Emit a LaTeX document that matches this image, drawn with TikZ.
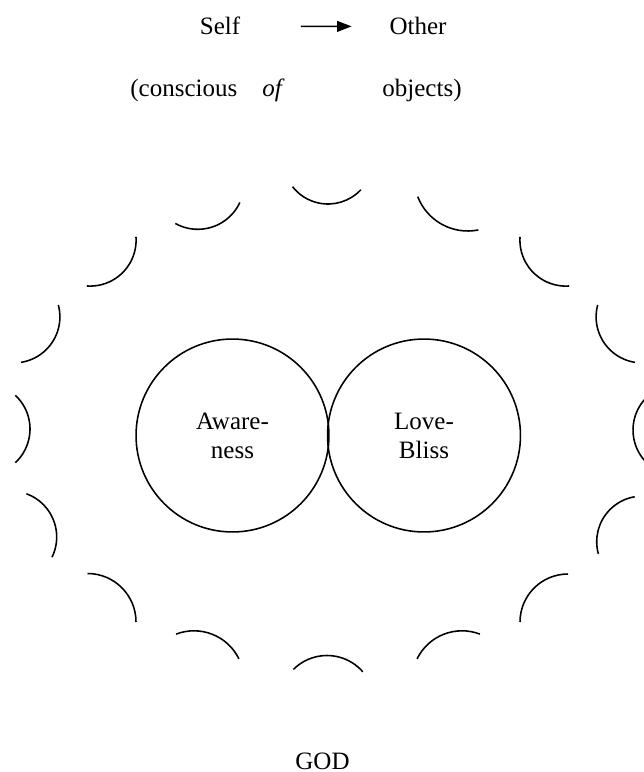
\documentclass[tikz,border=0pt]{standalone}
\usepackage{fontspec}
\setmainfont{Liberation Serif}
\usetikzlibrary{arrows.meta}

\begin{document}
\begin{tikzpicture}[x=0.48pt,y=-0.48pt,>={Triangle[length=7pt,width=5.2pt]},
  every node/.style={font=\fontsize{12}{13.9}\selectfont,align=center},
  wordtxt/.style={anchor=base,inner sep=0pt},
  ring/.style={draw,circle,line width=0.75pt,minimum size=92.6pt,inner sep=0pt},
  scallop/.style={line width=0.75pt}]
\useasboundingbox (0,0) rectangle (644,772);
\clip (0,0) rectangle (644,772);
\node[wordtxt] (self) at (220,35) {Self};
\node[wordtxt] (other) at (418,35) {Other};
\node[wordtxt,anchor=base west] (conscious) at (130,97) {(conscious};
\node[wordtxt,anchor=base west] (of) at (262,97) {\itshape of};
\node[wordtxt,anchor=base west] (objects) at (382,97) {objects)};
\draw[->,line width=0.75pt,shorten <=29pt,shorten >=18pt] (self) -- (other);
\node[ring] (aware) at (232.5,435.5) {Aware-\\ness};
\node[ring] (love) at (424,435.5) {Love-\\Bliss};
\node[wordtxt] (god) at (322.5,769) {GOD};
% scalloped ring round the two circles: centre x/centre y/radius/from/to
\foreach \cx/\cy/\r/\a/\b in {
  328/159/45/43/142, 197.8/182.9/46.4/25/119, 467.8/177.3/53.7/78.7/158.8,
  90.1/240.1/46/-4/94, 565.9/240.1/46/86/184,
  13.9/316.9/46/-15/81, 642.1/316.9/46/99/195,
  -16/429/46/-47/47, 679/430/46/133/227,
  10.7/537/46/-70/26, 642.3/541.7/45.6/164.6/260.4,
  87.5/622/48.5/-90/0, 568/622/48/180/270,
  194/680.8/50/-111/-26, 462/680.8/50/206/291, 327/703/47.5/-135/-41}
  \draw[scallop] ([shift={(\a:\r)}]\cx,\cy) arc[start angle=\a,end angle=\b,radius=\r];
\end{tikzpicture}
\end{document}
